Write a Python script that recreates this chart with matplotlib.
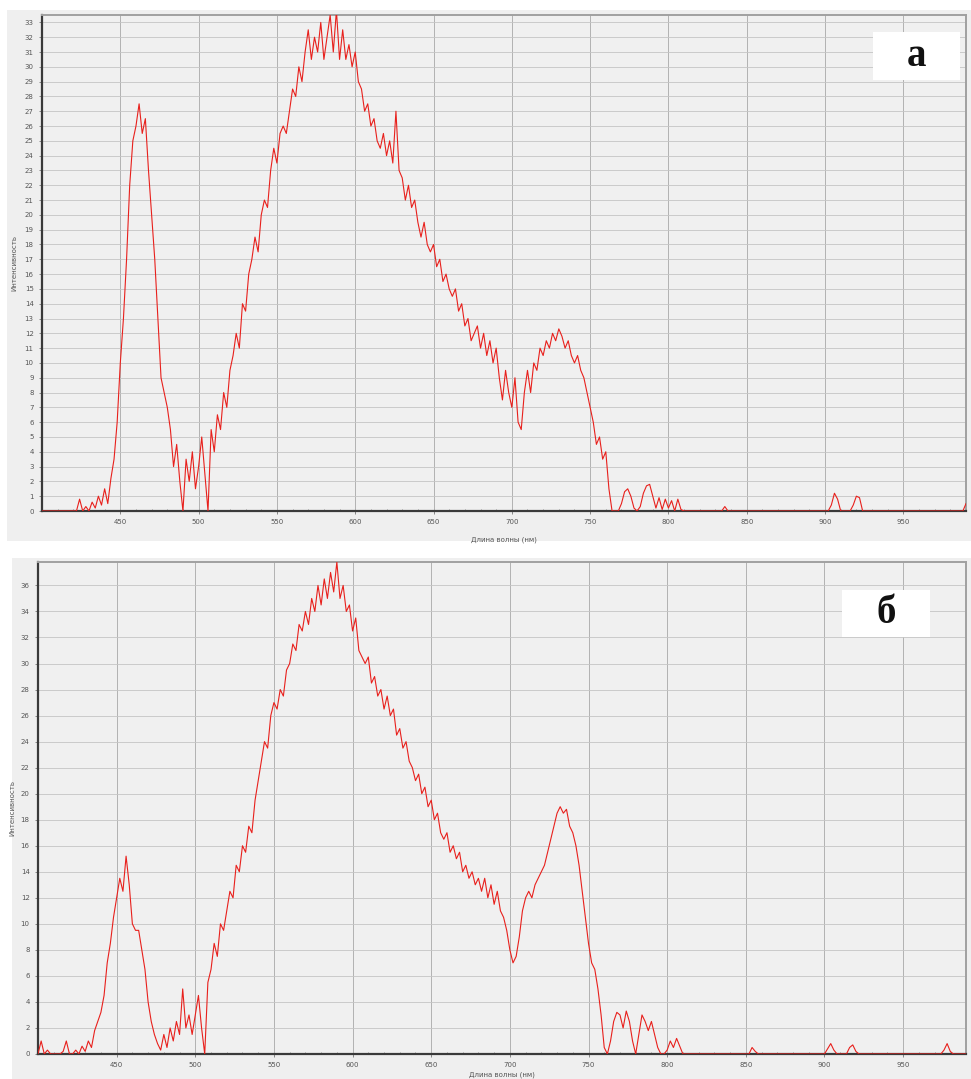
import matplotlib
matplotlib.use('Agg')
import matplotlib.pyplot as plt
from matplotlib.patches import Rectangle
from matplotlib.ticker import MultipleLocator
import numpy as np

# wavelength grid, nm (2 nm step, 400..990)
wavelength = np.arange(400, 992, 2)

# panel "а" intensity, one row = 20 nm
intensity_a = [
    0, 0, 0, 0, 0, 0, 0, 0, 0, 0,                          # 400
    0, 0, 0.8, 0, 0.3, 0, 0.6, 0.2, 1.0, 0.4,              # 420
    1.5, 0.5, 2.2, 3.5, 6, 10, 13, 17, 22, 25,             # 440
    26, 27.5, 25.5, 26.5, 23, 20, 17, 13, 9, 8,            # 460
    7, 5.5, 3, 4.5, 2, 0, 3.5, 2, 4, 1.5,                  # 480
    3, 5, 2.5, 0, 5.5, 4, 6.5, 5.5, 8, 7,                  # 500
    9.5, 10.5, 12, 11, 14, 13.5, 16, 17, 18.5, 17.5,       # 520
    20, 21, 20.5, 23, 24.5, 23.5, 25.5, 26, 25.5, 27,      # 540
    28.5, 28, 30, 29, 31, 32.5, 30.5, 32, 31, 33,          # 560
    30.5, 32, 33.5, 31, 33.8, 30.5, 32.5, 30.5, 31.5, 30,  # 580
    31, 29, 28.5, 27, 27.5, 26, 26.5, 25, 24.5, 25.5,      # 600
    24, 25, 23.5, 27, 23, 22.5, 21, 22, 20.5, 21,          # 620
    19.5, 18.5, 19.5, 18, 17.5, 18, 16.5, 17, 15.5, 16,    # 640
    15, 14.5, 15, 13.5, 14, 12.5, 13, 11.5, 12, 12.5,      # 660
    11, 12, 10.5, 11.5, 10, 11, 9, 7.5, 9.5, 8,            # 680
    7, 9, 6, 5.5, 8, 9.5, 8, 10, 9.5, 11,                  # 700
    10.5, 11.5, 11, 12, 11.5, 12.3, 11.8, 11, 11.5, 10.5,  # 720
    10, 10.5, 9.5, 9, 8, 7, 6, 4.5, 5, 3.5,                # 740
    4, 1.5, 0, 0, 0, 0.5, 1.3, 1.5, 1.0, 0.2,              # 760
    0, 0.3, 1.2, 1.7, 1.8, 1.0, 0.2, 0.9, 0.1, 0.8,        # 780
    0.2, 0.7, 0, 0.8, 0.1, 0, 0, 0, 0, 0,                  # 800
    0, 0, 0, 0, 0, 0, 0, 0, 0.3, 0,                        # 820
    0, 0, 0, 0, 0, 0, 0, 0, 0, 0,                          # 840
    0, 0, 0, 0, 0, 0, 0, 0, 0, 0,                          # 860
    0, 0, 0, 0, 0, 0, 0, 0, 0, 0,                          # 880
    0, 0, 0.4, 1.2, 0.8, 0, 0, 0, 0, 0.4,                  # 900
    1.0, 0.9, 0, 0, 0, 0, 0, 0, 0, 0,                      # 920
    0, 0, 0, 0, 0, 0, 0, 0, 0, 0,                          # 940
    0, 0, 0, 0, 0, 0, 0, 0, 0, 0,                          # 960
    0, 0, 0, 0, 0, 0.5,                                    # 980
]

# panel "б" intensity
intensity_b = [
    0, 1.0, 0, 0.3, 0, 0, 0, 0, 0.2, 1.0,                  # 400
    0, 0, 0.3, 0, 0.6, 0.2, 1.0, 0.5, 1.8, 2.5,            # 420
    3.2, 4.5, 7, 8.5, 10.5, 12, 13.5, 12.5, 15.2, 13,      # 440
    10, 9.5, 9.5, 8, 6.5, 4, 2.5, 1.5, 0.8, 0.3,           # 460
    1.5, 0.5, 2, 1, 2.5, 1.5, 5, 2, 3, 1.5,                # 480
    3, 4.5, 2, 0, 5.5, 6.5, 8.5, 7.5, 10, 9.5,             # 500
    11, 12.5, 12, 14.5, 14, 16, 15.5, 17.5, 17, 19.5,      # 520
    21, 22.5, 24, 23.5, 26, 27, 26.5, 28, 27.5, 29.5,      # 540
    30, 31.5, 31, 33, 32.5, 34, 33, 35, 34, 36,            # 560
    34.5, 36.5, 35, 37, 35.5, 37.8, 35, 36, 34, 34.5,      # 580
    32.5, 33.5, 31, 30.5, 30, 30.5, 28.5, 29, 27.5, 28,    # 600
    26.5, 27.5, 26, 26.5, 24.5, 25, 23.5, 24, 22.5, 22,    # 620
    21, 21.5, 20, 20.5, 19, 19.5, 18, 18.5, 17, 16.5,      # 640
    17, 15.5, 16, 15, 15.5, 14, 14.5, 13.5, 14, 13,        # 660
    13.5, 12.5, 13.5, 12, 13, 11.5, 12.5, 11, 10.5, 9.5,   # 680
    8, 7, 7.5, 9, 11, 12, 12.5, 12, 13, 13.5,              # 700
    14, 14.5, 15.5, 16.5, 17.5, 18.5, 19, 18.5, 18.8, 17.5,  # 720
    17, 16, 14.5, 12.5, 10.5, 8.5, 7, 6.5, 5, 3,           # 740
    0.5, 0, 1, 2.5, 3.2, 3, 2, 3.3, 2.5, 1,                # 760
    0, 1.5, 3, 2.5, 1.8, 2.5, 1.5, 0.5, 0, 0,              # 780
    0.3, 1.0, 0.5, 1.2, 0.6, 0, 0, 0, 0, 0,                # 800
    0, 0, 0, 0, 0, 0, 0, 0, 0, 0,                          # 820
    0, 0, 0, 0, 0, 0, 0, 0.5, 0.2, 0,                      # 840
    0, 0, 0, 0, 0, 0, 0, 0, 0, 0,                          # 860
    0, 0, 0, 0, 0, 0, 0, 0, 0, 0,                          # 880
    0, 0.4, 0.8, 0.3, 0, 0, 0, 0, 0.5, 0.7,                # 900
    0.2, 0, 0, 0, 0, 0, 0, 0, 0, 0,                        # 920
    0, 0, 0, 0, 0, 0, 0, 0, 0, 0,                          # 940
    0, 0, 0, 0, 0, 0, 0, 0, 0.3, 0.8,                      # 960
    0.2, 0, 0, 0, 0, 0,                                    # 980
]

panel_labels = ['а', 'б']
x_label = 'Длина волны (нм)'
y_label = 'Интенсивность'
x_ticks = [450, 500, 550, 600, 650, 700, 750, 800, 850, 900, 950]

W, H = 971, 1079
fig = plt.figure(figsize=(W / 100, H / 100), dpi=100, facecolor='white')

def fx(px):
    return px / W

def fy(py):
    return 1 - py / H

# grey screenshot backgrounds
fig.patches.append(Rectangle((fx(7), fy(541)), fx(964), 531 / H, transform=fig.transFigure,
                             facecolor='#efefef', edgecolor='none', zorder=-10))
fig.patches.append(Rectangle((fx(12), fy(1079)), fx(959), 521 / H, transform=fig.transFigure,
                             facecolor='#efefef', edgecolor='none', zorder=-10))

panels = [
    # axes box in px, y max, y step, data, label box (x0,x1,y0,y1 px), ylabel x px, xlabel y px
    dict(l=42, r=966, t=15, b=511, ymax=33.5, ystep=1, y=intensity_a,
         box=(873, 960, 32, 80), ylab=17, xlab=536),
    dict(l=38, r=966, t=562, b=1054, ymax=37.8, ystep=2, y=intensity_b,
         box=(842, 930, 590, 637), ylab=15, xlab=1072),
]

for p, lab in zip(panels, panel_labels):
    ax = fig.add_axes([fx(p['l']), fy(p['b']), (p['r'] - p['l']) / W, (p['b'] - p['t']) / H])
    ax.set_zorder(1)
    ax.set_facecolor('#f0f0f0')
    ax.plot(wavelength, p['y'], color='#e8201c', linewidth=0.8, zorder=3)
    ax.set_xlim(400, 990)
    ax.set_ylim(0, p['ymax'])

    ax.set_xticks(x_ticks)
    ax.xaxis.set_minor_locator(MultipleLocator(10))
    ax.yaxis.set_major_locator(MultipleLocator(p['ystep']))
    ax.grid(axis='y', which='major', color='#c4c4c4', linewidth=0.6, zorder=1)
    ax.grid(axis='x', which='major', color='#a8a8a8', linewidth=0.6, zorder=1)
    ax.tick_params(axis='both', which='major', labelsize=5, labelcolor='#555555',
                   length=2, width=0.6, color='#777777', pad=4)
    ax.tick_params(axis='x', which='minor', length=1.5, width=0.5, color='#777777', direction='in')
    for side in ['left', 'bottom']:
        ax.spines[side].set_color('#3a3a3a')
        ax.spines[side].set_linewidth(1.6)
    for side in ['top', 'right']:
        ax.spines[side].set_color('#a0a0a0')
        ax.spines[side].set_linewidth(1.4)

    ax.set_xlabel(x_label, fontsize=5, color='#555555')
    ax.xaxis.set_label_coords(0.5, (p['b'] - p['xlab']) / (p['b'] - p['t']))
    ax.set_ylabel(y_label, fontsize=5, color='#555555')
    ax.yaxis.set_label_coords((p['ylab'] - p['l']) / (p['r'] - p['l']), 0.5)

    x0, x1, y0, y1 = p['box']
    aw, ah = p['r'] - p['l'], p['b'] - p['t']
    ax.add_patch(Rectangle(((x0 - p['l']) / aw, (p['b'] - y1) / ah), (x1 - x0) / aw, (y1 - y0) / ah,
                           transform=ax.transAxes, facecolor='white', edgecolor='none', zorder=4))
    ax.text(((x0 + x1) / 2 - p['l']) / aw, (p['b'] - (y0 + y1) / 2) / ah, lab,
            transform=ax.transAxes, ha='center', va='center', fontsize=28,
            fontweight='bold', family='Liberation Serif', color='#111111', zorder=5)

fig.savefig('out.png', dpi=100, facecolor='white')
